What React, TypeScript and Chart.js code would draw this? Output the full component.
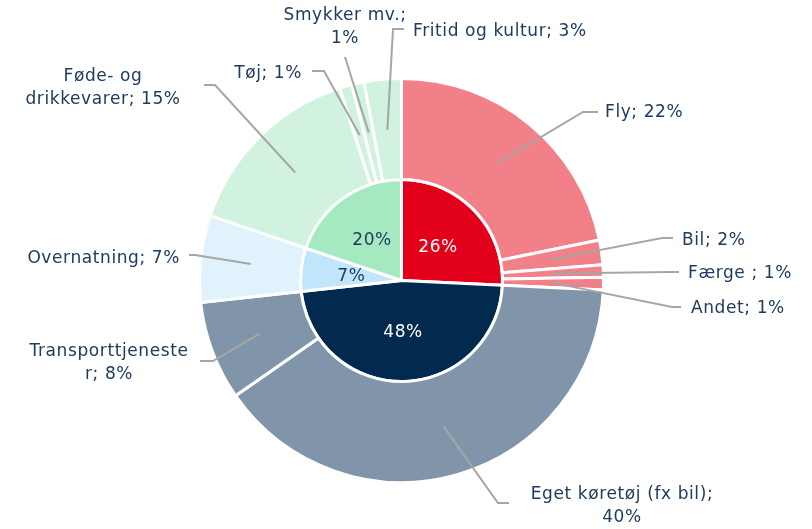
import React, { useEffect, useRef } from "react";
import { Chart, registerables } from "chart.js";

Chart.register(...registerables);

// Outer ring (sub-categories)
const outerLabels = [
  "Fly", "Bil", "Færge ", "Andet", "Eget køretøj (fx bil)", "Transporttjeneste r",
  "Overnatning", "Føde- og drikkevarer", "Tøj", "Smykker mv.", "Fritid og kultur",
];
const outerValues = [22, 2, 1, 1, 40, 8, 7, 15, 1, 1, 3];
const outerColors = [
  "#f28088", "#f28088", "#f28088", "#f28088", "#8095a9", "#8095a9",
  "#e0f3fc", "#d1f2df", "#d1f2df", "#d1f2df", "#d1f2df",
];

// Inner pie (main groups)
const innerValues = [26, 48, 7, 20];
const innerColors = ["#e3001b", "#012a4e", "#c1e6fb", "#a5e9c1"];
const innerTextColors = ["#ffffff", "#ffffff", "#1d3a5e", "#1d3a5e"];

// Label text lines for outer slices
const outerTextLines = [
  ["Fly; 22%"],
  ["Bil; 2%"],
  ["Færge ; 1%"],
  ["Andet; 1%"],
  ["Eget køretøj (fx bil);", "40%"],
  ["Transporttjeneste", "r; 8%"],
  ["Overnatning; 7%"],
  ["Føde- og", "drikkevarer; 15%"],
  ["Tøj; 1%"],
  ["Smykker mv.;", "1%"],
  ["Fritid og kultur; 3%"],
];

// Layout for labels (text anchor, alignment, leader elbow and end)
const labelLayout = [
  { x: 605, y: 111, align: "left", elbow: [583, 112], end: [598, 112] },
  { x: 682, y: 239, align: "left", elbow: [662, 238], end: [673, 238] },
  { x: 688, y: 272, align: "left", elbow: [670, 272], end: [679, 272] },
  { x: 691, y: 307, align: "left", elbow: [672, 307], end: [681, 307] },
  { x: 622, y: 493, align: "center", elbow: [498, 503], end: [509, 503] },
  { x: 109, y: 350, align: "center", elbow: [213, 361], end: [200, 361] },
  { x: 180, y: 257, align: "right", elbow: [195, 255], end: [189, 255] },
  { x: 103, y: 75, align: "center", elbow: [215, 85], end: [204, 85] },
  { x: 302, y: 72, align: "right", elbow: [324, 71], end: [312, 71] },
  { x: 345, y: 14, align: "center", elbow: [345, 57], end: [345, 57] },
  { x: 413, y: 30, align: "left", elbow: [393, 29], end: [404, 29] },
];

const FONT = "DejaVu Sans";
const FONT_SIZE = 17;
const SPACING = "0.6px";
const TEXT_COLOR = "#1e3b60";
const LINE_H = 23;
const Y_SHIFT = 1.5;

function drawText(ctx: any, t: string, x: number, y: number, align: string) {
  ctx.textAlign = "left";
  const w = ctx.measureText(t).width;
  let sx = x;
  if (align === "center") sx = x - w / 2;
  else if (align === "right") sx = x - w;
  ctx.fillText(t, sx, y + Y_SHIFT);
}

const labelPlugin = {
  id: "labelPlugin",
  afterDatasetsDraw(chart: any) {
    const ctx = chart.ctx;
    ctx.save();
    const outerMeta = chart.getDatasetMeta(0);
    outerMeta.data.forEach((arc: any, i: number) => {
      const p = arc.tooltipPosition();
      const L = labelLayout[i];
      ctx.strokeStyle = "#a6a6a6";
      ctx.lineWidth = 2;
      ctx.beginPath();
      ctx.moveTo(p.x, p.y);
      ctx.lineTo(L.elbow[0], L.elbow[1]);
      ctx.lineTo(L.end[0], L.end[1]);
      ctx.stroke();
      ctx.fillStyle = TEXT_COLOR;
      ctx.font = `${FONT_SIZE}px "${FONT}"`;
      ctx.letterSpacing = SPACING;
      ctx.textBaseline = "middle";
      outerTextLines[i].forEach((t, k) => {
        drawText(ctx, t, L.x, L.y + k * LINE_H, L.align);
      });
    });
    const innerMeta = chart.getDatasetMeta(1);
    innerMeta.data.forEach((arc: any, i: number) => {
      const p = arc.tooltipPosition();
      ctx.fillStyle = innerTextColors[i];
      ctx.font = `${FONT_SIZE}px "${FONT}"`;
      ctx.letterSpacing = SPACING;
      ctx.textBaseline = "middle";
      drawText(ctx, innerValues[i] + "%", p.x, p.y, "center");
    });
    ctx.restore();
  },
};

export default function App() {
  const ref = useRef<HTMLCanvasElement>(null);
  useEffect(() => {
    const chart = new Chart(ref.current!, {
      type: "pie",
      data: {
        labels: outerLabels,
        datasets: [
          {
            data: outerValues,
            backgroundColor: outerColors,
            borderColor: "#ffffff",
            borderWidth: 3,
          },
          {
            data: innerValues,
            backgroundColor: innerColors,
            borderColor: "#ffffff",
            borderWidth: 3,
          },
        ],
      },
      options: {
        animation: false,
        responsive: false,
        maintainAspectRatio: false,
        layout: { padding: { left: 198, right: 207, top: 77, bottom: 45 } },
        plugins: {
          legend: { display: false },
          tooltip: { enabled: false },
        },
      },
      plugins: [labelPlugin],
    });
    return () => chart.destroy();
  }, []);
  return (
    <div style={{ position: "fixed", left: 0, top: 0, width: 812, height: 529, background: "#fff" }}>
      <canvas ref={ref} width={812} height={529} style={{ width: 812, height: 529 }} />
    </div>
  );
}
